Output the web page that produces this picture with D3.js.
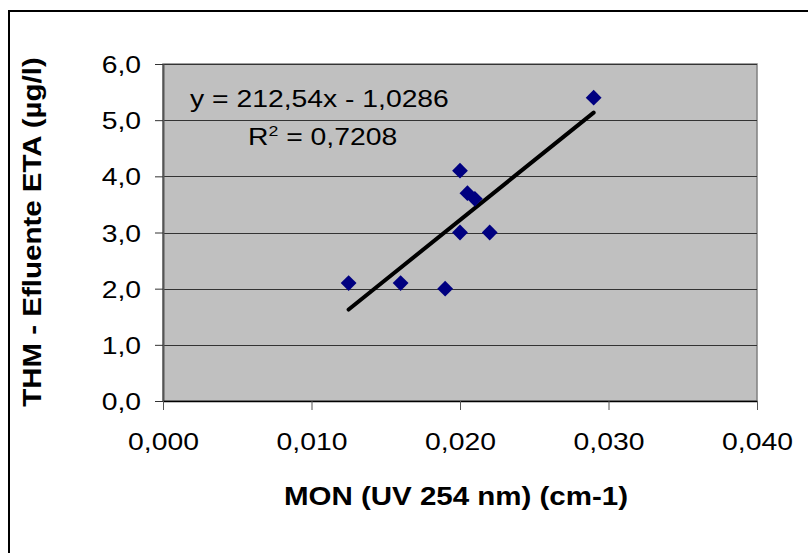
<!DOCTYPE html>
<html><head><meta charset="utf-8">
<script src="https://cdn.jsdelivr.net/npm/d3@7"></script>
<style>body{margin:0;background:#fff}svg{display:block}text{font-family:"Liberation Sans",Arial,sans-serif;fill:#000}</style>
</head><body><svg id="c" width="808" height="553"></svg>
<script>
const xValues = [0.0125, 0.016, 0.019, 0.020, 0.0205, 0.021, 0.020, 0.022, 0.029];
const yValues = [2.1, 2.1, 2.0, 4.1, 3.7, 3.6, 3.0, 3.0, 5.4];
const xTicks = [0, 0.01, 0.02, 0.03, 0.04];
const yTicks = [0, 1, 2, 3, 4, 5, 6];
const trendSlope = 212.54, trendIntercept = -1.0286, rSquared = "0,7208";
const xTitle = "MON (UV 254 nm) (cm-1)";
const yTitle = "THM - Efluente ETA (µg/l)";

const SX = 1.18;
const svg = d3.select("#c");
svg.append("rect").attr("x",9).attr("y",11).attr("width",820).attr("height",560)
  .attr("fill","#fff").attr("stroke","#000").attr("stroke-width",2);

const L=163,R=757,T=64,B=401;
const x = d3.scaleLinear().domain([0,0.04]).range([L,R]);
const y = d3.scaleLinear().domain([0,6]).range([B,T]);
const fmtX = v => d3.format(".3f")(v).replace(".",",");
const fmtY = v => d3.format(".1f")(v).replace(".",",");

svg.append("rect").attr("x",L).attr("y",T).attr("width",R-L).attr("height",B-T)
  .attr("fill","#c0c0c0").attr("stroke","#808080").attr("stroke-width",1.5);

// gridlines
svg.append("g").selectAll("line").data(yTicks.filter(d=>d>0)).join("line")
  .attr("x1",L).attr("x2",R).attr("y1",d=>Math.round(y(d))+0.5).attr("y2",d=>Math.round(y(d))+0.5)
  .attr("stroke","#333").attr("stroke-width",1);

// y axis
const gy = svg.append("g").attr("transform",`translate(${L},0)`)
  .call(d3.axisLeft(y).tickValues(yTicks).tickFormat(fmtY).tickSize(8).tickSizeOuter(0));
gy.select(".domain").attr("stroke","#555").attr("stroke-width",2);
gy.selectAll(".tick line").attr("stroke","#333");
gy.selectAll(".tick text").attr("font-size",24).attr("x",null).attr("dy",null)
  .attr("text-anchor","end").attr("transform",`translate(-22,8.6) scale(${SX},1)`);

// x axis
const gx = svg.append("g").attr("transform",`translate(0,${B})`)
  .call(d3.axisBottom(x).tickValues(xTicks).tickFormat(fmtX).tickSize(9).tickSizeOuter(0));
gx.select(".domain").attr("stroke","#000").attr("stroke-width",1.5);
gx.selectAll(".tick line").attr("stroke","#555");
gx.selectAll(".tick text").attr("font-size",24).attr("y",null).attr("dy",null)
  .attr("text-anchor","middle").attr("transform",`translate(0,49) scale(${SX},1)`);

// trendline
const xr = d3.extent(xValues);
svg.append("line").attr("x1",x(xr[0])).attr("y1",y(trendSlope*xr[0]+trendIntercept))
  .attr("x2",x(xr[1])).attr("y2",y(trendSlope*xr[1]+trendIntercept))
  .attr("stroke","#000").attr("stroke-width",4).attr("stroke-linecap","round");

// points
const sym = d3.symbol().type(d3.symbolSquare).size(125);
svg.append("g").selectAll("path").data(xValues.map((v,i)=>[v,yValues[i]])).join("path")
  .attr("d",sym).attr("fill","#000080")
  .attr("transform",d=>`translate(${x(d[0])},${y(d[1])}) rotate(45)`);

// equation
const sgn = trendIntercept<0?" - ":" + ";
const eq = `y = ${String(trendSlope).replace(".",",")}x${sgn}${String(Math.abs(trendIntercept)).replace(".",",")}`;
svg.append("text").attr("font-size",24).attr("transform",`translate(190,107) scale(${SX},1)`).text(eq);
const r2 = svg.append("text").attr("font-size",24).attr("transform",`translate(248,145) scale(${SX},1)`);
r2.append("tspan").text("R");
r2.append("tspan").attr("font-size",15).attr("dy",-9).text("2");
r2.append("tspan").attr("dy",9).text(" = "+rSquared);

// titles
svg.append("text").attr("font-size",25).attr("font-weight","bold").attr("text-anchor","middle")
  .attr("transform",`translate(456,505) scale(${SX},1)`).text(xTitle);
svg.append("text").attr("font-size",25).attr("font-weight","bold").attr("text-anchor","middle")
  .attr("transform",`translate(41,232) rotate(-90) scale(${SX},1)`).text(yTitle);
</script></body></html>
